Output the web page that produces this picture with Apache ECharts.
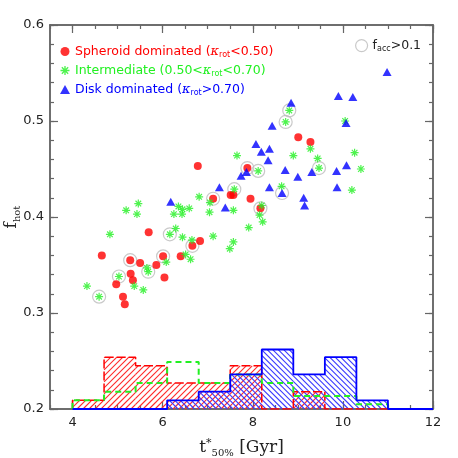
<!DOCTYPE html>
<html>
<head>
<meta charset="utf-8">
<script src="https://cdn.jsdelivr.net/npm/echarts@6/dist/echarts.min.js"></script>
<style>
  html, body { margin: 0; padding: 0; background: #fff; }
  #chart { width: 458px; height: 458px; }
</style>
</head>
<body>
<div id="chart"></div>
<script>
// spheroid dominated (red)
const sphX = [4.65, 4.97, 5.12, 5.16, 5.28, 5.29, 5.34, 5.50, 5.69, 5.86, 6.01, 6.04, 6.40, 6.66, 6.83, 6.78, 7.12, 7.51, 7.57, 7.88, 7.95, 8.17, 9.01, 9.28];
const sphY = [0.360, 0.330, 0.317, 0.309, 0.355, 0.341, 0.334, 0.352, 0.384, 0.350, 0.359, 0.337, 0.359, 0.370, 0.375, 0.453, 0.419, 0.423, 0.423, 0.451, 0.419, 0.409, 0.483, 0.478];
// intermediate (green)
const intX = [4.32, 4.59, 4.83, 5.03, 5.19, 5.37, 5.43, 5.46, 5.57, 5.65, 5.68, 6.08, 6.16, 6.25, 6.29, 6.35, 6.43, 6.44, 6.44, 6.51, 6.59, 6.62, 6.65, 6.81, 7.04, 7.05, 7.12, 7.49, 7.57, 7.57, 7.59, 7.65, 7.91, 8.12, 8.15, 8.20, 8.22, 8.64, 8.73, 8.81, 8.90, 9.28, 9.44, 9.47, 10.05, 10.20, 10.26, 10.40];
const intY = [0.328, 0.317, 0.382, 0.338, 0.407, 0.328, 0.403, 0.414, 0.324, 0.347, 0.343, 0.353, 0.382, 0.403, 0.388, 0.411, 0.403, 0.408, 0.379, 0.361, 0.409, 0.356, 0.376, 0.421, 0.405, 0.415, 0.380, 0.367, 0.407, 0.374, 0.429, 0.464, 0.389, 0.448, 0.402, 0.412, 0.395, 0.432, 0.499, 0.511, 0.464, 0.471, 0.461, 0.451, 0.500, 0.428, 0.467, 0.450];
// disk dominated (blue)
const diskX = [6.18, 7.26, 7.39, 7.74, 7.86, 8.07, 8.19, 8.34, 8.37, 8.37, 8.43, 8.65, 8.72, 8.85, 9.00, 9.13, 9.15, 9.31, 9.86, 9.87, 9.90, 10.07, 10.08, 10.22, 10.98];
const diskY = [0.416, 0.431, 0.410, 0.443, 0.447, 0.476, 0.468, 0.459, 0.471, 0.431, 0.495, 0.425, 0.449, 0.519, 0.442, 0.420, 0.412, 0.447, 0.448, 0.431, 0.526, 0.498, 0.454, 0.525, 0.551];
// galaxies with f_acc > 0.1 (grey rings)
const accX = [5.28, 6.01, 6.66, 7.12, 7.88, 8.17, 4.59, 5.03, 5.68, 6.16, 7.59, 8.12, 8.73, 8.81, 9.47, 8.65];
const accY = [0.355, 0.359, 0.370, 0.419, 0.451, 0.409, 0.317, 0.338, 0.343, 0.382, 0.429, 0.448, 0.499, 0.511, 0.451, 0.425];

// histograms (bin edges, bar tops on the f_hot scale)
const binEdges = [4.0, 4.7, 5.4, 6.1, 6.8, 7.5, 8.2, 8.9, 9.6, 10.3, 11.0];
const histSph = [0.209, 0.254, 0.245, 0.227, 0.227, 0.245, 0.200, 0.218, 0.200, 0.200];
const histInt = [0.209, 0.218, 0.227, 0.249, 0.227, 0.236, 0.227, 0.2135, 0.2135, 0.205];
const histDisk = [0.200, 0.200, 0.200, 0.209, 0.218, 0.236, 0.262, 0.236, 0.254, 0.209];

const xLabels = [4, 6, 8, 10, 12];
const yLabels = [0.2, 0.3, 0.4, 0.5, 0.6];

const xMinor = [];
for (let v = 3.5; v <= 12.001; v += 0.5) xMinor.push(+v.toFixed(2));
const yMinor = [];
for (let v = 0.2; v <= 0.6001; v += 0.02) yMinor.push(+v.toFixed(3));

const RED = '#ff0000', GREEN = '#22f022', BLUE = '#0000ff', FRAME = '#666';
const ASTER = 'path://M0 8.5L20 8.5L20 11.5L0 11.5Z M8.5 0L11.5 0L11.5 20L8.5 20Z M4.05 1.93L18.07 15.95L15.95 18.07L1.93 4.05Z M1.93 15.95L15.95 1.93L18.07 4.05L4.05 18.07Z';

const zip = (xs, ys) => xs.map((x, i) => [x, ys[i]]);

function bins(h) {
    return h.map((v, i) => [binEdges[i], binEdges[i + 1], v]);
}

function outline(h) {
    const pts = [[binEdges[0], 0.2], [binEdges[0], h[0]]];
    for (let i = 1; i < h.length; i++) pts.push([binEdges[i], h[i]]);
    pts.push([binEdges[h.length], 0.2]);
    pts.push([12, 0.2]);
    return pts;
}

// diagonal hatching inside a bin, "/" when forward, "\" otherwise
function hatchLines(x0, x1, y0, y1, step, forward, color) {
    const out = [];
    const cMin = forward ? x0 + y0 : x0 - y1;
    const cMax = forward ? x1 + y1 : x1 - y0;
    for (let k = Math.ceil(cMin / step); k * step <= cMax; k++) {
        const c = k * step;
        let a, b;
        if (forward) {
            a = Math.max(x0, c - y1); b = Math.min(x1, c - y0);
            if (b <= a) continue;
            out.push({type: 'line', shape: {x1: a, y1: c - a, x2: b, y2: c - b}, style: {stroke: color, fill: null, lineWidth: 1.1}});
        } else {
            a = Math.max(x0, c + y0); b = Math.min(x1, c + y1);
            if (b <= a) continue;
            out.push({type: 'line', shape: {x1: a, y1: a - c, x2: b, y2: b - c}, style: {stroke: color, fill: null, lineWidth: 1.1}});
        }
    }
    return out;
}

function histFill(name, h, step, forward, color) {
    return {
        type: 'custom', name: name + 'fill', silent: true,
        data: bins(h),
        encode: {x: [0, 1], y: 2},
        itemStyle: {color: color},
        renderItem: (params, api) => {
            const a = api.coord([api.value(0), 0.2]);
            const b = api.coord([api.value(1), api.value(2)]);
            return {type: 'group', children: hatchLines(a[0], b[0], b[1], a[1], step, forward, color)};
        },
        z: 1
    };
}

function histLine(name, h, color, dash, w) {
    return {
        type: 'line', name: name + 'line', step: 'end', showSymbol: false, silent: true,
        data: outline(h),
        lineStyle: {color: color, width: w, type: dash},
        z: 2
    };
}

const tickFont = {fontFamily: 'DejaVu Sans', fontSize: 13, color: '#222'};

function xAx(pos, values, len, labels) {
    return {
        type: 'value', min: 3.5, max: 12, position: pos, gridIndex: 0,
        axisLine: {show: true, onZero: false, lineStyle: {color: FRAME, width: 1.5}},
        axisTick: {show: true, inside: true, length: len, customValues: values, lineStyle: {color: FRAME, width: 1.2}},
        axisLabel: labels ? Object.assign({customValues: xLabels, margin: 7}, tickFont) : {show: false},
        splitLine: {show: false}
    };
}
function yAx(pos, values, len, labels) {
    return {
        type: 'value', min: 0.2, max: 0.6, position: pos, gridIndex: 0,
        axisLine: {show: true, onZero: false, lineStyle: {color: FRAME, width: 1.5}},
        axisTick: {show: true, inside: true, length: len, customValues: values, lineStyle: {color: FRAME, width: 1.2}},
        axisLabel: labels ? Object.assign({customValues: yLabels, margin: 6, formatter: v => v.toFixed(1)}, tickFont) : {show: false},
        splitLine: {show: false}
    };
}

const xAxes = [xAx('bottom', xLabels, 8, true), xAx('bottom', xMinor, 4, false), xAx('top', xLabels, 8, false), xAx('top', xMinor, 4, false)];
xAxes[0].name = '{m|t}{sup|*}{sub|50%}{m| [Gyr]}';
xAxes[0].nameLocation = 'middle';
xAxes[0].nameGap = 28;
xAxes[0].nameMoveOverlap = false;
xAxes[0].nameTextStyle = {
    fontFamily: 'DejaVu Serif', fontSize: 17, color: '#222',
    rich: {
        m: {fontFamily: 'DejaVu Serif', fontSize: 17, color: '#222'},
        sup: {fontFamily: 'DejaVu Serif', fontSize: 11, color: '#222', padding: [0, 0, 8, 0]},
        sub: {fontFamily: 'DejaVu Serif', fontSize: 10, color: '#222', padding: [11, 0, 0, 0]}
    }
};
const yAxes = [yAx('left', yLabels, 8, true), yAx('left', yMinor, 4, false), yAx('right', yLabels, 8, false), yAx('right', yMinor, 4, false)];
yAxes[0].name = '{m|f}{sub|hot}';
yAxes[0].nameLocation = 'middle';
yAxes[0].nameRotate = 90;
yAxes[0].nameGap = 28;
yAxes[0].nameMoveOverlap = false;
yAxes[0].nameTextStyle = {
    fontFamily: 'DejaVu Serif', fontSize: 17, color: '#222',
    rich: {
        m: {fontFamily: 'DejaVu Serif', fontSize: 17, color: '#222'},
        sub: {fontFamily: 'DejaVu Serif', fontSize: 10, color: '#222', padding: [10, 0, 0, 0]}
    }
};

const legendRich = {
    k: {fontFamily: 'DejaVu Serif', fontStyle: 'italic', fontSize: 13},
    s: {fontFamily: 'DejaVu Sans', fontSize: 8, padding: [7, 0, 0, 0]}
};
const legendNames = {
    Spheroid: 'Spheroid dominated ({k|κ}{s|rot}<0.50)',
    Intermediate: 'Intermediate (0.50<{k|κ}{s|rot}<0.70)',
    Disk: 'Disk dominated ({k|κ}{s|rot}>0.70)',
    facc: 'f{s|acc}>0.1'
};

const chart = echarts.init(document.getElementById('chart'), null, {renderer: 'canvas'});
chart.setOption({
    animation: false,
    backgroundColor: '#fff',
    grid: {left: 50, right: 25, top: 25, bottom: 49, outerBoundsMode: 'none', containLabel: false},
    xAxis: xAxes,
    yAxis: yAxes,
    legend: [{
        orient: 'vertical', left: 55, top: 39, itemGap: 4,
        itemWidth: 10, itemHeight: 9, selectedMode: false,
        formatter: n => legendNames[n],
        textStyle: {fontFamily: 'DejaVu Sans', fontSize: 12.5, lineHeight: 15, rich: legendRich},
        data: [
            {name: 'Spheroid', textStyle: {color: RED}},
            {name: 'Intermediate', textStyle: {color: GREEN}},
            {name: 'Disk', textStyle: {color: BLUE}}
        ]
    }, {
        left: 350, top: 34, itemWidth: 12, itemHeight: 12, selectedMode: false,
        formatter: n => legendNames[n],
        textStyle: {fontFamily: 'DejaVu Sans', fontSize: 12.5, color: '#222', rich: legendRich},
        data: [{name: 'facc', icon: 'circle', itemStyle: {color: 'rgba(0,0,0,0)', borderColor: '#bbb', borderWidth: 1.2}}]
    }],
    series: [
        histFill('sph', histSph, 6, true, '#ff2a2a'),
        histFill('disk', histDisk, 5.5, false, '#3a3aff'),
        histLine('sph', histSph, RED, [9, 3], 1.5),
        histLine('int', histInt, GREEN, [6, 4], 2),
        histLine('disk', histDisk, BLUE, 'solid', 1.8),
        {
            type: 'scatter', name: 'facc', data: zip(accX, accY), symbol: 'circle', symbolSize: 13,
            itemStyle: {color: 'rgba(0,0,0,0)', borderColor: '#bbb', borderWidth: 1.2}, z: 3
        },
        {type: 'scatter', name: 'Spheroid', data: zip(sphX, sphY), symbol: 'circle', symbolSize: 8, itemStyle: {color: RED}, z: 4},
        {type: 'scatter', name: 'Intermediate', data: zip(intX, intY), symbol: ASTER, symbolSize: 8, itemStyle: {color: GREEN}, z: 4},
        {type: 'scatter', name: 'Disk', data: zip(diskX, diskY), symbol: 'triangle', symbolSize: [9, 8], itemStyle: {color: BLUE}, z: 4}
    ]
});
</script>
</body>
</html>
